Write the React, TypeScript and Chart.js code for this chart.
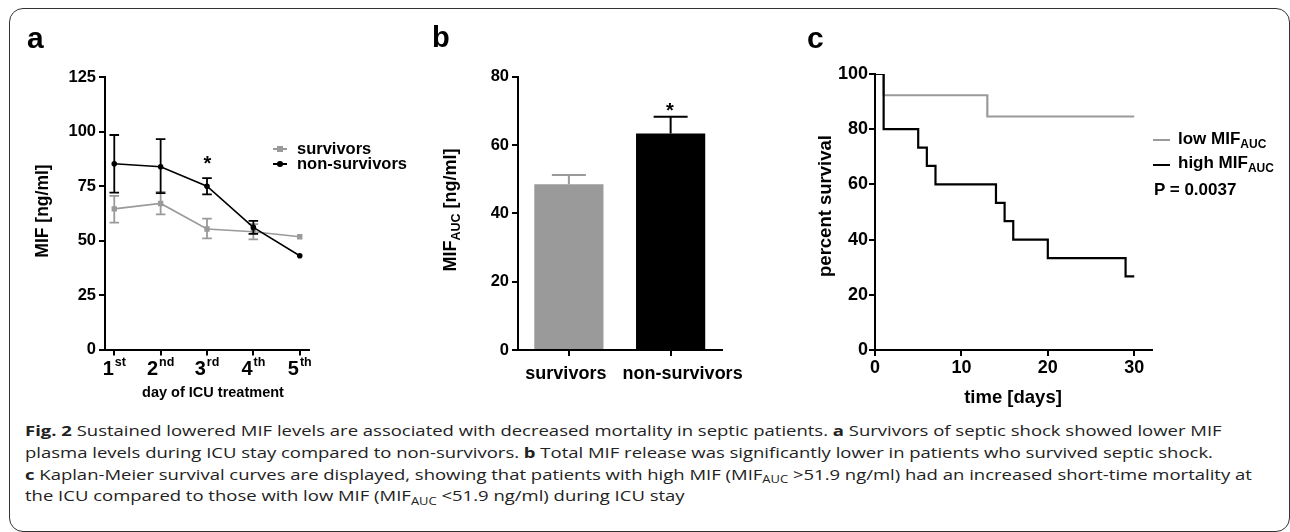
import React, { useEffect, useRef } from "react";
import { Chart, registerables } from "chart.js";
Chart.register(...registerables);

const FONT = "'Liberation Sans', Arial, Helvetica, sans-serif";
const CAPTION_FONT = "'Open Sans', 'Noto Sans', sans-serif";
const GRAY = "#9a9a9a";
const BLACK = "#000000";

// ---------- Panel a: MIF over ICU days ----------
const dayValues = [1, 2, 3, 4, 5];
const dayNumbers = ["1", "2", "3", "4", "5"];
const daySuffixes = ["st", "nd", "rd", "th", "th"];
const survivorsMean = [64.5, 67, 55.3, 54, 51.7];
const survivorsUpper = [70.5, 72.3, 60, 57.5, null];
const survivorsLower = [58.2, 62, 51, 50.5, null];
const nonSurvivorsMean = [85.2, 83.8, 74.9, 56, 43];
const nonSurvivorsUpper = [98.4, 96.5, 78.6, 59, null];
const nonSurvivorsLower = [72, 71.7, 71.2, 53, null];
const mifTicks = [0, 25, 50, 75, 100, 125];

// ---------- Panel b: MIF AUC ----------
const groupLabels = ["survivors", "non-survivors"];
const aucMean = [48.5, 63.4];
const aucUpper = [51.2, 68.3];
const aucTicks = [0, 20, 40, 60, 80];

// ---------- Panel c: Kaplan-Meier ----------
const lowTime = [0, 1, 13, 30];
const lowSurvival = [100, 92.3, 84.6, 84.6];
const highTime = [0, 1, 5, 6, 7, 14, 15, 16, 20, 29, 30];
const highSurvival = [100, 80, 73.3, 66.7, 60, 53.3, 46.7, 40, 33.3, 26.7, 26.7];
const timeTicks = [0, 10, 20, 30];
const survivalTicks = [0, 20, 40, 60, 80, 100];

function axis(fontSize: number, padding: number) {
  return {
    grid: { display: true, drawOnChartArea: false, drawTicks: true, tickLength: 6, color: "#000", lineWidth: 2 },
    border: { display: true, color: "#000", width: 2 },
    ticks: {
      color: "#000",
      padding,
      autoSkip: false,
      maxRotation: 0,
      minRotation: 0,
      font: { family: FONT, size: fontSize, weight: "bold" },
    },
  };
}

function strokeErrorBars(chart: any, dsIndex: number, mean: any[], upper: any[], lower: any[], color: string, capHalf: number, lw: number) {
  const meta = chart.getDatasetMeta(dsIndex);
  const y = chart.scales.y;
  const ctx = chart.ctx;
  ctx.save();
  ctx.strokeStyle = color;
  ctx.lineWidth = lw;
  meta.data.forEach((el: any, i: number) => {
    const hi = upper[i];
    const lo = lower[i];
    if (hi == null) return;
    const x = el.x;
    const yHi = y.getPixelForValue(hi);
    const yLo = y.getPixelForValue(lo == null ? mean[i] : lo);
    ctx.beginPath();
    ctx.moveTo(x, yHi);
    ctx.lineTo(x, yLo);
    ctx.moveTo(x - capHalf, yHi);
    ctx.lineTo(x + capHalf, yHi);
    if (lo != null) {
      ctx.moveTo(x - capHalf, yLo);
      ctx.lineTo(x + capHalf, yLo);
    }
    ctx.stroke();
  });
  ctx.restore();
}

function configA(): any {
  return {
    type: "line",
    data: {
      datasets: [
        {
          label: "survivors",
          data: dayValues.map((d, i) => ({ x: d, y: survivorsMean[i] })),
          borderColor: GRAY,
          backgroundColor: GRAY,
          borderWidth: 1.6,
          pointStyle: "rect",
          pointRadius: 3.8,
          pointBorderWidth: 0,
          tension: 0,
          order: 1,
        },
        {
          label: "non-survivors",
          data: dayValues.map((d, i) => ({ x: d, y: nonSurvivorsMean[i] })),
          borderColor: BLACK,
          backgroundColor: BLACK,
          borderWidth: 1.6,
          pointStyle: "circle",
          pointRadius: 2.8,
          pointBorderWidth: 0,
          tension: 0,
          order: 0,
        },
      ],
    },
    options: {
      responsive: false,
      animation: false,
      events: [],
      layout: { padding: { left: 45, top: 77, right: 121, bottom: 30.5 } },
      plugins: { legend: { display: false }, tooltip: { enabled: false } },
      scales: {
        x: {
          type: "linear",
          min: 0.8,
          max: 5.2,
          ...axis(16, 3),
          ticks: { display: false },
          afterBuildTicks: (s: any) => { s.ticks = dayValues.map((v) => ({ value: v })); },
          afterFit: (s: any) => { s.height = 30; },
        },
        y: {
          type: "linear",
          min: 0,
          max: 125,
          ...axis(16.5, 3),
          afterBuildTicks: (s: any) => { s.ticks = mifTicks.map((v) => ({ value: v })); },
          afterFit: (s: any) => { s.width = 60; },
        },
      },
    },
    plugins: [
      {
        id: "errA",
        afterDatasetDraw(chart: any, args: any) {
          if (args.index === 0) strokeErrorBars(chart, 0, survivorsMean, survivorsUpper, survivorsLower, GRAY, 4.8, 1.8);
          if (args.index === 1) strokeErrorBars(chart, 1, nonSurvivorsMean, nonSurvivorsUpper, nonSurvivorsLower, BLACK, 4.8, 1.8);
        },
      },
      {
        id: "dayLabels",
        afterDraw(chart: any) {
          const xs = chart.scales.x;
          const ctx = chart.ctx;
          ctx.save();
          ctx.fillStyle = "#000";
          ctx.textBaseline = "alphabetic";
          ctx.textAlign = "left";
          dayValues.forEach((v, i) => {
            const x = xs.getPixelForValue(v);
            ctx.font = `bold 20px ${FONT}`;
            const w1 = ctx.measureText(dayNumbers[i]).width;
            ctx.font = `bold 12.5px ${FONT}`;
            const w2 = ctx.measureText(daySuffixes[i]).width;
            const start = x - (w1 + w2 + 1) / 2;
            ctx.font = `bold 20px ${FONT}`;
            ctx.fillText(dayNumbers[i], start, xs.top + 25.5);
            ctx.font = `bold 12.5px ${FONT}`;
            ctx.fillText(daySuffixes[i], start + w1 + 1, xs.top + 16.5);
          });
          ctx.restore();
        },
      },
    ],
  };
}

function configB(): any {
  const ax = axis(18, 4);
  const labelShift = [-3, 12];
  return {
    type: "bar",
    data: {
      labels: groupLabels,
      datasets: [
        {
          label: "MIF AUC",
          data: aucMean,
          backgroundColor: [GRAY, BLACK],
          borderWidth: 0,
          barPercentage: 0.68,
          categoryPercentage: 1,
        },
      ],
    },
    options: {
      responsive: false,
      animation: false,
      events: [],
      layout: { padding: { left: 38, top: 76.7, right: 68.5, bottom: 20 } },
      plugins: { legend: { display: false }, tooltip: { enabled: false } },
      scales: {
        x: {
          type: "category",
          offset: true,
          ...ax,
          ticks: { ...ax.ticks, display: false },
          grid: { ...ax.grid, offset: false },
          afterFit: (s: any) => { s.height = 40; },
        },
        y: {
          type: "linear",
          min: 0,
          max: 80,
          ...axis(16.5, 3),
          afterBuildTicks: (s: any) => { s.ticks = aucTicks.map((v) => ({ value: v })); },
          afterFit: (s: any) => { s.width = 60; },
        },
      },
    },
    plugins: [
      {
        id: "errB",
        afterDatasetsDraw(chart: any) {
          const meta = chart.getDatasetMeta(0);
          const y = chart.scales.y;
          const ctx = chart.ctx;
          meta.data.forEach((el: any, i: number) => {
            ctx.save();
            ctx.strokeStyle = i === 0 ? GRAY : BLACK;
            ctx.lineWidth = 2;
            const yHi = y.getPixelForValue(aucUpper[i]);
            const yM = y.getPixelForValue(aucMean[i]);
            ctx.beginPath();
            ctx.moveTo(el.x, yM);
            ctx.lineTo(el.x, yHi);
            ctx.moveTo(el.x - 17, yHi);
            ctx.lineTo(el.x + 17, yHi);
            ctx.stroke();
            ctx.restore();
          });
        },
      },
      {
        id: "groupLabels",
        afterDraw(chart: any) {
          const xs = chart.scales.x;
          const ctx = chart.ctx;
          ctx.save();
          ctx.fillStyle = "#000";
          ctx.font = `bold 18px ${FONT}`;
          ctx.textAlign = "center";
          ctx.textBaseline = "alphabetic";
          groupLabels.forEach((lab, i) => {
            ctx.fillText(lab, xs.getPixelForValue(i) + labelShift[i], xs.top + 28.5);
          });
          ctx.restore();
        },
      },
    ],
  };
}

function configC(): any {
  return {
    type: "line",
    data: {
      datasets: [
        {
          label: "low MIF AUC",
          data: lowTime.map((t, i) => ({ x: t, y: lowSurvival[i] })),
          borderColor: GRAY,
          borderWidth: 2.2,
          pointRadius: 0,
          stepped: "before",
          order: 1,
        },
        {
          label: "high MIF AUC",
          data: highTime.map((t, i) => ({ x: t, y: highSurvival[i] })),
          borderColor: BLACK,
          borderWidth: 2.2,
          pointRadius: 0,
          stepped: "before",
          order: 0,
        },
      ],
    },
    options: {
      responsive: false,
      animation: false,
      events: [],
      layout: { padding: { left: 25, top: 74, right: 138.5, bottom: 20 } },
      plugins: { legend: { display: false }, tooltip: { enabled: false } },
      scales: {
        x: {
          type: "linear",
          min: 0,
          max: 32,
          ...axis(18, 1),
          afterBuildTicks: (s: any) => { s.ticks = timeTicks.map((v) => ({ value: v })); },
          afterFit: (s: any) => { s.height = 40; },
        },
        y: {
          type: "linear",
          min: 0,
          max: 100,
          ...axis(18, 1),
          afterBuildTicks: (s: any) => { s.ticks = survivalTicks.map((v) => ({ value: v })); },
          afterFit: (s: any) => { s.width = 60; },
        },
      },
    },
  };
}

function ChartCanvas({ left, top, width, height, make }: { left: number; top: number; width: number; height: number; make: () => any }) {
  const ref = useRef<HTMLCanvasElement | null>(null);
  useEffect(() => {
    if (!ref.current) return;
    const chart = new Chart(ref.current, make());
    return () => chart.destroy();
  }, []);
  return (
    <canvas
      ref={ref}
      width={width}
      height={height}
      style={{ position: "absolute", left, top, width, height }}
    />
  );
}

function T({ x, y, size, children, align }: { x: number; y: number; size: number; children: any; align?: string }) {
  return (
    <div
      style={{
        position: "absolute",
        left: x,
        top: y - 0.8465 * size,
        fontFamily: FONT,
        fontWeight: 700,
        fontSize: size,
        lineHeight: `${size}px`,
        whiteSpace: "nowrap",
        color: "#000",
        transform: align === "center" ? "translateX(-50%)" : undefined,
      }}
    >
      {children}
    </div>
  );
}

function RT({ cx, cy, size, children, rotate }: { cx: number; cy: number; size: number; children: any; rotate?: boolean }) {
  return (
    <div
      style={{
        position: "absolute",
        left: cx,
        top: cy,
        fontFamily: FONT,
        fontWeight: 700,
        fontSize: size,
        lineHeight: `${size}px`,
        whiteSpace: "nowrap",
        color: "#000",
        transform: rotate ? "translate(-50%,-50%) rotate(-90deg)" : "translate(-50%,-50%)",
      }}
    >
      {children}
    </div>
  );
}

function Sub({ children, size }: { children: any; size: number }) {
  return <span style={{ fontSize: size, lineHeight: 1, position: "relative", top: size * 0.35 }}>{children}</span>;
}

export default function App() {
  useEffect(() => {
    document.body.style.margin = "0";
  }, []);
  return (
    <div style={{ position: "absolute", left: 0, top: 0, width: 1290, height: 532, overflow: "hidden", background: "#fff" }}>
      <div
        style={{
          position: "absolute",
          left: 9,
          top: 8,
          width: 1281,
          height: 524,
          boxSizing: "border-box",
          border: "1.5px solid #333",
          borderRadius: 14,
        }}
      />
      <ChartCanvas left={0} top={0} width={430} height={410} make={configA} />
      <ChartCanvas left={420} top={0} width={370} height={410} make={configB} />
      <ChartCanvas left={790} top={0} width={500} height={410} make={configC} />

      {/* panel letters */}
      <T x={27} y={48} size={30}>a</T>
      <T x={432} y={48} size={29}>b</T>
      <T x={807} y={48} size={30}>c</T>

      {/* panel a texts */}
      <RT cx={43} cy={211} size={17.5} rotate>MIF [ng/ml]</RT>
      <RT cx={213} cy={392} size={14.5}>day of ICU treatment</RT>
      <T x={207.5} y={170} size={20} align="center">*</T>
      <div style={{ position: "absolute", left: 273, top: 148.2, width: 14, height: 1.6, background: GRAY }} />
      <div style={{ position: "absolute", left: 277.3, top: 146.3, width: 5.4, height: 5.4, background: GRAY }} />
      <div style={{ position: "absolute", left: 273, top: 163.2, width: 14, height: 1.6, background: BLACK }} />
      <div style={{ position: "absolute", left: 277.2, top: 161.2, width: 5.6, height: 5.6, borderRadius: "50%", background: BLACK }} />
      <T x={297} y={154.3} size={16.5}>survivors</T>
      <T x={297} y={169.3} size={16.5}>non-survivors</T>

      {/* panel b texts */}
      <RT cx={450} cy={210} size={18} rotate>
        MIF<Sub size={12.5}>AUC</Sub> [ng/ml]
      </RT>
      <T x={670} y={117} size={20} align="center">*</T>

      {/* panel c texts */}
      <RT cx={825} cy={206} size={18.5} rotate>percent survival</RT>
      <RT cx={1013} cy={397} size={18.5}>time [days]</RT>
      <div style={{ position: "absolute", left: 1153, top: 139, width: 17, height: 2.2, background: GRAY }} />
      <div style={{ position: "absolute", left: 1153, top: 164, width: 17, height: 2.2, background: BLACK }} />
      <T x={1178} y={144} size={17}>
        low MIF<Sub size={12}>AUC</Sub>
      </T>
      <T x={1178} y={168.5} size={17}>
        high MIF<Sub size={12}>AUC</Sub>
      </T>
      <T x={1154} y={195} size={17}>P = 0.0037</T>

      {/* caption */}
      <div
        style={{
          position: "absolute",
          left: 25,
          top: 420.3,
          fontFamily: CAPTION_FONT,
          fontSize: 15,
          lineHeight: "21.7px",
          color: "#222",
          whiteSpace: "nowrap",
          transform: "scaleX(1.232)",
          transformOrigin: "0 0",
        }}
      >
        <b>Fig. 2</b> Sustained lowered MIF levels are associated with decreased mortality in septic patients. <b>a</b> Survivors of septic shock showed lower MIF
        <br />
        plasma levels during ICU stay compared to non-survivors. <b>b</b> Total MIF release was significantly lower in patients who survived septic shock.
        <br />
        <b>c</b> Kaplan-Meier survival curves are displayed, showing that patients with high MIF (MIF<Sub size={10.5}>AUC</Sub> &gt;51.9 ng/ml) had an increased short-time mortality at
        <br />
        the ICU compared to those with low MIF (MIF<Sub size={10.5}>AUC</Sub> &lt;51.9 ng/ml) during ICU stay
      </div>
    </div>
  );
}
